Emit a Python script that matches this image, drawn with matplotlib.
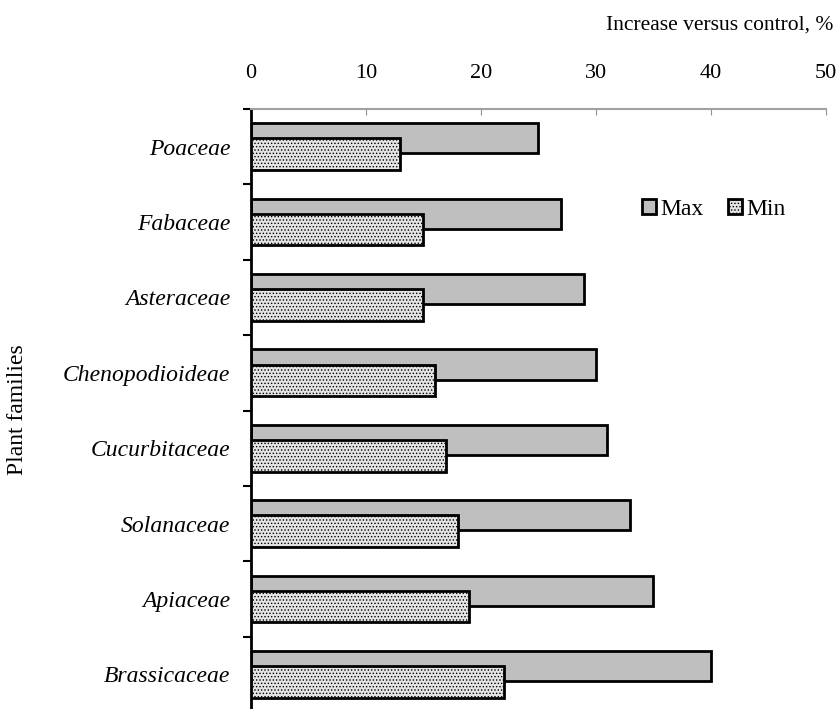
import numpy as np
import matplotlib.pyplot as plt
from matplotlib.patches import Patch

families = ['Poaceae', 'Fabaceae', 'Asteraceae', 'Chenopodioideae',
            'Cucurbitaceae', 'Solanaceae', 'Apiaceae', 'Brassicaceae']
max_vals = [25, 27, 29, 30, 31, 33, 35, 40]
min_vals = [13, 15, 15, 16, 17, 18, 19, 22]
xticks = [0, 10, 20, 30, 40, 50]

plt.rcParams['font.family'] = 'Liberation Serif'
plt.rcParams['hatch.color'] = '#9a9a9a'
plt.rcParams['hatch.linewidth'] = 0.6

fig = plt.figure(figsize=(8.37, 7.09), dpi=100)
ax = fig.add_axes([251/837, 1 - 712/709, 575/837, 603/709])

y = np.arange(len(families))
ax.barh(y - 0.11, max_vals, height=0.40, color='#bfbfbf',
        edgecolor='black', linewidth=2, label='Max', zorder=2)
ax.barh(y + 0.10, min_vals, height=0.42, color='#e4e4e4',
        edgecolor='black', linewidth=2, hatch='.....', label='Min', zorder=3)

ax.set_xlim(0, 50)
ax.set_ylim(len(families) - 0.5, -0.5)
ax.xaxis.tick_top()
ax.set_xticks(xticks)
ax.tick_params(axis='x', direction='in', length=4, color='#909090',
               labelsize=16, pad=19)

# category labels at centres, ticks at the boundaries
ax.set_yticks(y)
ax.set_yticklabels(families, fontstyle='italic', fontsize=17)
ax.tick_params(axis='y', which='major', length=0, pad=15)
ax.set_yticks(np.arange(len(families) + 1) - 0.5, minor=True)
ax.tick_params(axis='y', which='minor', direction='out', length=6,
               width=1.5, color='black')

for s in ['right', 'bottom']:
    ax.spines[s].set_visible(False)
ax.spines['top'].set_color('#a0a0a0')
ax.spines['top'].set_linewidth(1.5)
ax.spines['left'].set_color('black')
ax.spines['left'].set_linewidth(2)

fig.text(833/837, 1 - 25/709, 'Increase versus control, %', fontsize=15.5,
         ha='right', va='center')
fig.text(18/837, 1 - 410/709, 'Plant families', fontsize=17,
         rotation=90, ha='center', va='center')

handles = [Patch(facecolor='#bfbfbf', edgecolor='black', linewidth=2),
           Patch(facecolor='#e4e4e4', edgecolor='black', linewidth=2,
                 hatch='.....')]
ax.legend(handles, ['Max', 'Min'], loc='center', bbox_to_anchor=(0.805, 0.834),
          ncol=2, frameon=False, fontsize=17, handlelength=0.6,
          handleheight=0.6, handletextpad=0.2, columnspacing=1.0)

fig.savefig('out.png', dpi=100)
